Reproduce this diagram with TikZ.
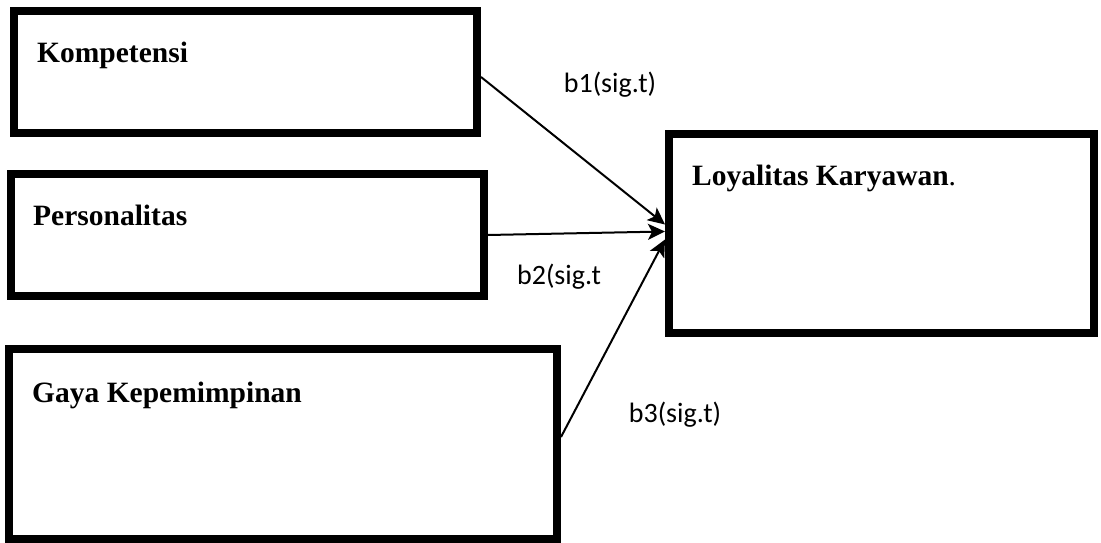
\documentclass[tikz,border=0pt]{standalone}
\usepackage{fontspec}
\setmainfont{Liberation Serif}
\newfontfamily\labelfont{Carlito}
\usetikzlibrary{arrows.meta}
\begin{document}
\begin{tikzpicture}[x=1pt,y=-1pt,
  varbox/.style={draw,line width=8pt,minimum width=#1,inner sep=0pt},
  title/.style={anchor=base west,inner sep=0pt,font=\fontsize{29.5}{32}\selectfont\bfseries},
  coef/.style={anchor=center,inner sep=0pt,font=\labelfont\fontsize{28}{30}\selectfont},
  link/.style={line width=2pt,-{Stealth[length=17pt,width=16pt,inset=4pt,fill=black]}}]
  \useasboundingbox (0,0) rectangle (1101,543);
  % variable boxes
  \node[varbox=463pt,minimum height=122pt] (komp) at (245.5,72) {};
  \node[varbox=473pt,minimum height=122pt] (pers) at (247.5,235) {};
  \node[varbox=548pt,minimum height=190pt] (gaya) at (283,444) {};
  \node[varbox=425pt,minimum height=199pt] (loya) at (881.5,233.5) {};
  % box titles
  \node[title] (tkomp) at (37,63) {Kompetensi};
  \node[title] (tpers) at (33,225) {Personalitas};
  \node[title] (tgaya) at (32,402) {Gaya Kepemimpinan};
  \node[title] (tloya) at (692,185) {Loyalitas Karyawan{\mdseries.}};
  % paths to the dependent variable
  \draw[link] ([yshift=-5pt]komp.east) -- ([yshift=9pt]loya.west);
  \draw[link] (pers.east) -- ([yshift=2pt]loya.west);
  \draw[link] ([yshift=7pt]gaya.east) -- ([yshift=-6pt]loya.west);
  % coefficient labels
  \node[coef] (c1) at (610,85) {b1(sig.t)};
  \node[coef] (c2) at (559,277) {b2(sig.t};
  \node[coef] (c3) at (675,415) {b3(sig.t)};
\end{tikzpicture}
\end{document}
